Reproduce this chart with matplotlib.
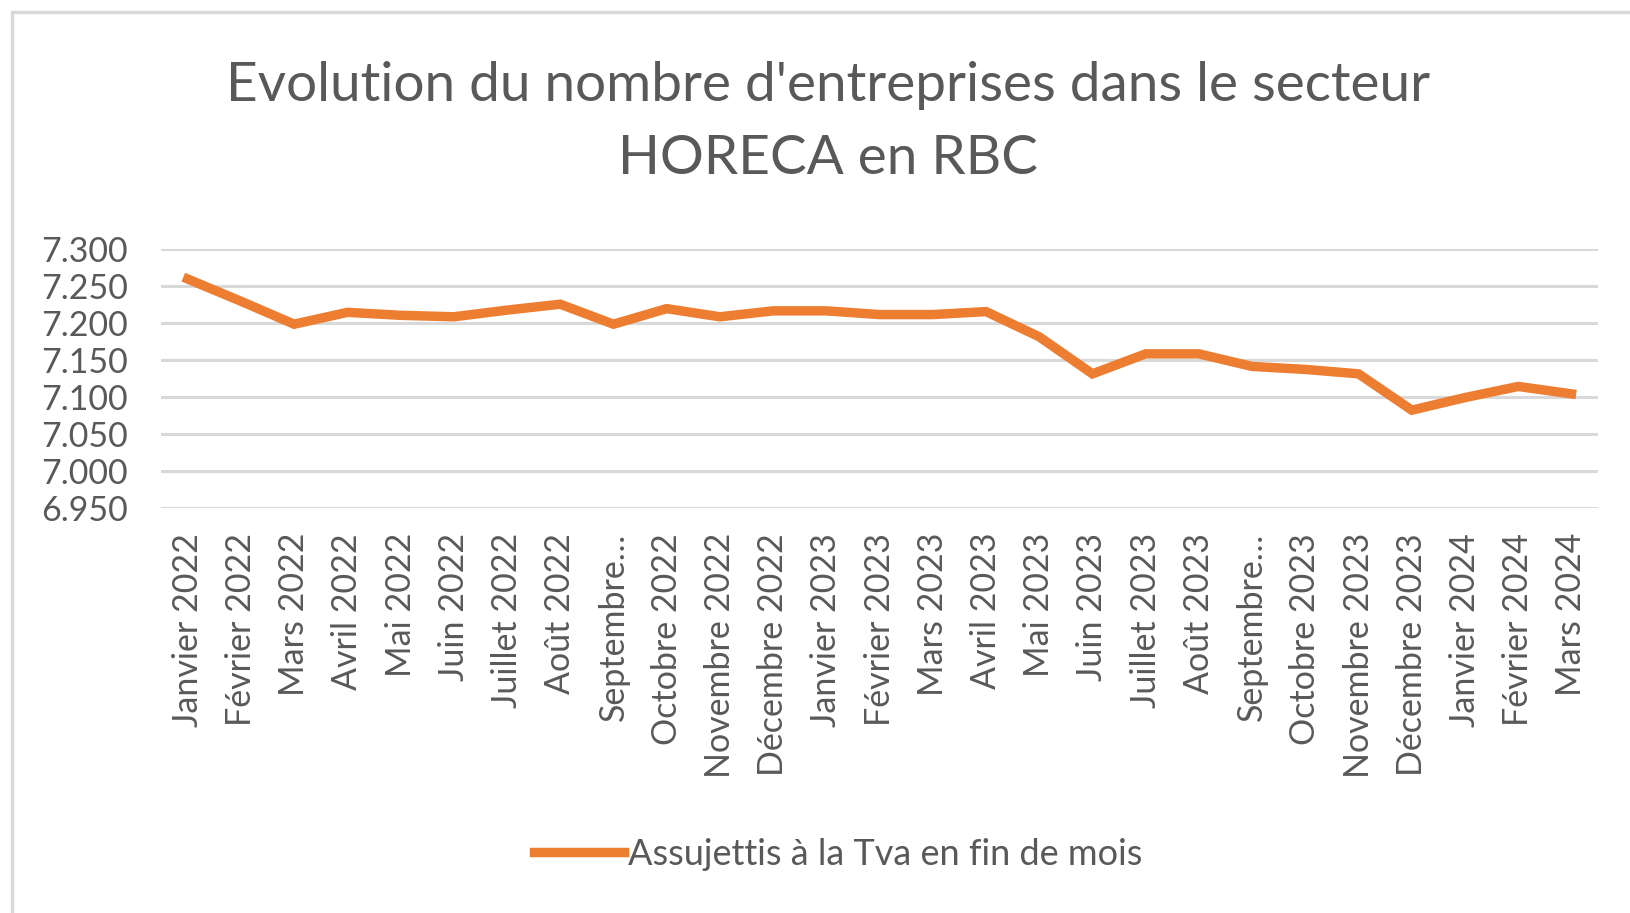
import numpy as np
import matplotlib
matplotlib.use('Agg')
import matplotlib.pyplot as plt
from matplotlib.ticker import FuncFormatter
from matplotlib.patches import Rectangle

plt.rcParams['font.family'] = ['Lato', 'DejaVu Sans']

'''
    Data
'''
months = ['Janvier 2022', 'Février 2022', 'Mars 2022', 'Avril 2022', 'Mai 2022', 'Juin 2022',
          'Juillet 2022', 'Août 2022', 'Septembre…', 'Octobre 2022', 'Novembre 2022',
          'Décembre 2022', 'Janvier 2023', 'Février 2023', 'Mars 2023', 'Avril 2023',
          'Mai 2023', 'Juin 2023', 'Juillet 2023', 'Août 2023', 'Septembre…',
          'Octobre 2023', 'Novembre 2023', 'Décembre 2023', 'Janvier 2024',
          'Février 2024', 'Mars 2024']
assujettis = [7259, 7229, 7198, 7214, 7210, 7208, 7217, 7225, 7198, 7219, 7208, 7216,
              7216, 7211, 7211, 7215, 7181, 7131, 7158, 7158, 7141, 7137, 7131, 7082,
              7099, 7114, 7104]
yticks = [6950, 7000, 7050, 7100, 7150, 7200, 7250, 7300]
series_name = 'Assujettis à la Tva en fin de mois'
title = "Evolution du nombre d'entreprises dans le secteur\nHORECA en RBC"

TXT = '#595959'
ORANGE = '#ED7D31'
GRID = '#D9D9D9'

fig = plt.figure(figsize=(16.3, 9.13), dpi=100)
ax = fig.add_axes([0.0988, 0.4436, 0.8816, 0.2841])

x = np.arange(len(months))
ax.plot(x, assujettis, color=ORANGE, lw=6.8, solid_joinstyle='miter', label=series_name)

ax.set_xlim(-0.5, len(months) - 0.5)
ax.set_ylim(yticks[0], yticks[-1])
ax.set_yticks(yticks)
ax.yaxis.set_major_formatter(FuncFormatter(lambda v, p: '{:,.0f}'.format(v).replace(',', '.')))
ax.set_xticks(x)
ax.set_xticklabels(months, rotation=90, va='top', ha='center')
ax.tick_params(axis='x', length=0, pad=18, labelsize=24.5, labelcolor=TXT)
ax.tick_params(axis='y', length=0, pad=24, labelsize=24.5, labelcolor=TXT)
ax.grid(axis='y', color=GRID, lw=2.2)
ax.set_axisbelow(True)
for s in ax.spines.values():
    s.set_visible(False)

fig.text(0.508, 0.866, title, ha='center', va='center', fontsize=39.5, color=TXT,
         linespacing=1.6)

fig.legend(loc='center', bbox_to_anchor=(0.514, 0.064), frameon=False, fontsize=26,
           labelcolor=TXT, handlelength=2.5, handletextpad=0.1)

# chart frame (only left and top edges visible in the crop)
fig.patches.append(Rectangle((12 / 1630, -0.1), 1.2, 1 - 12 / 913 + 0.1,
                             transform=fig.transFigure, fill=False,
                             edgecolor='#D9D9D9', lw=2.5))

fig.savefig('out.png', dpi=100)
